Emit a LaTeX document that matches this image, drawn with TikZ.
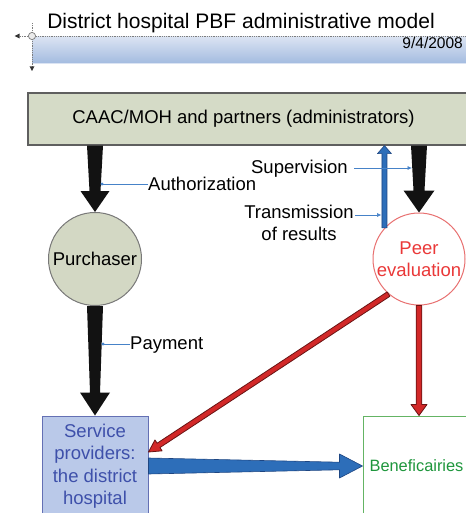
\documentclass[tikz,border=0pt]{standalone}
\usepackage{fontspec}
\setmainfont{Liberation Sans}
\usetikzlibrary{calc,arrows.meta}

\definecolor{bandtop}{RGB}{218,227,242}
\definecolor{bandbot}{RGB}{164,188,224}
\definecolor{guidegray}{RGB}{125,125,125}
\definecolor{admfill}{RGB}{213,219,199}
\definecolor{admline}{RGB}{95,95,95}
\definecolor{purfill}{RGB}{211,216,196}
\definecolor{purline}{RGB}{120,120,120}
\definecolor{svcfill}{RGB}{186,201,233}
\definecolor{svcline}{RGB}{100,112,180}
\definecolor{svctext}{RGB}{62,80,170}
\definecolor{peerline}{RGB}{232,112,112}
\definecolor{peertext}{RGB}{234,56,56}
\definecolor{benline}{RGB}{100,180,100}
\definecolor{bentext}{RGB}{30,150,60}
\definecolor{arrowblue}{RGB}{45,110,185}
\definecolor{arrowblueline}{RGB}{30,70,130}
\definecolor{arrowred}{RGB}{210,40,40}
\definecolor{arrowredline}{RGB}{105,20,20}
\definecolor{lineblue}{RGB}{70,130,200}

% Filled, optionally tapered arrow drawn as one polygon:
% #1 style, #2 start, #3 tip, #4 half-width at start,
% #5 half-width at head base, #6 head half-width, #7 head length
\newcommand\taperarrow[7]{%
  \coordinate (ta-h) at ($(#3)!#7!(#2)$);
  \path[#1] ($(#2)!#4!90:(#3)$) -- ($(ta-h)!#5!90:(#3)$)
    -- ($(ta-h)!#6!90:(#3)$) -- (#3) -- ($(ta-h)!#6!-90:(#3)$)
    -- ($(ta-h)!#5!-90:(#3)$) -- ($(#2)!#4!-90:(#3)$) -- cycle;
}

\begin{document}
\begin{tikzpicture}[x=1pt,y=-1pt,
  txt/.style={font=\fontsize{18.5}{22}\selectfont},
  lab/.style={txt, inner sep=0pt, text height=13.3pt, text depth=3.7pt},
  labml/.style={txt, inner sep=0pt, align=center},
  labline/.style={draw=lineblue, line width=0.7pt},
  guide/.style={draw=guidegray, line width=0.8pt, dash pattern=on 0.9pt off 0.9pt},
  blackarrow/.style={fill=black!93},
  bluearrow/.style={fill=arrowblue, draw=arrowblueline, line width=0.6pt, line join=round},
  redarrow/.style={fill=arrowred, draw=arrowredline, line width=0.8pt, line join=round},
]
\useasboundingbox (0,0) rectangle (465,513);

% ---- header strip
\shade[top color=bandtop, bottom color=bandbot] (32,37) rectangle (470,63);
\draw[white!60!bandbot, line width=1.2pt] (32,63.6) -- (470,63.6);
\draw[guide] (20,36) -- (470,36);
\draw[guide] (32,23) -- (32,67);
\draw[guidegray, fill=white!85!guidegray, line width=0.7pt] (32,36) circle (3.6pt);
\fill[black!80] (14.5,36) -- (19.5,33.6) -- (19.5,38.4) -- cycle;
\fill[black!80] (32,71) -- (29.6,66.5) -- (34.4,66.5) -- cycle;
\node[font=\fontsize{21}{24}\selectfont, inner sep=0pt, anchor=base] (title) at (241,28.5)
  {District hospital PBF administrative model};
\node[font=\fontsize{15.5}{18}\selectfont, inner sep=0pt, anchor=base east] (date) at (463,48.5)
  {9/4/2008};

% ---- actors
\node[txt, rectangle, fill=admfill, draw=admline, line width=1.2pt,
      minimum width=442pt, minimum height=52pt, inner sep=0pt] (adm) at (249,119)
  {\hspace*{-11pt}CAAC/MOH and partners (administrators)};
\node[txt, circle, fill=purfill, draw=purline, line width=1pt,
      minimum size=93pt, inner sep=0pt] (pur) at (95,259) {Purchaser};
\node[txt, circle, fill=white, draw=peerline, line width=1pt, text=peertext,
      minimum size=92pt, inner sep=0pt, align=center] (peer) at (419,259) {Peer\\evaluation};
\node[font=\fontsize{18.5}{22.5}\selectfont, rectangle, fill=svcfill, draw=svcline, line width=1pt,
      text=svctext, minimum width=106pt, minimum height=100pt, inner sep=0pt, align=center]
  (svc) at (95,466) {Service\\providers:\\the district\\hospital};
\node[font=\fontsize{16.4}{20}\selectfont, rectangle, fill=white, draw=benline, line width=1pt,
      text=bentext, minimum width=107pt, minimum height=100pt, inner sep=0pt]
  (ben) at (416.5,466) {Beneficairies};

% ---- flows
\coordinate (pa) at (adm.south -| pur.center);
\coordinate (pb) at (adm.south -| peer.center);
\taperarrow{blackarrow}{pa}{pur.north}{8pt}{5.5pt}{14.5pt}{21pt}
\taperarrow{blackarrow}{pb}{peer.north}{8pt}{5.5pt}{15.5pt}{22pt}
\taperarrow{blackarrow}{pur.south}{svc.north}{8pt}{5pt}{15pt}{23pt}

\coordinate (ts) at (peer.138.6);
\coordinate (te) at (ts |- adm.south);
\taperarrow{bluearrow}{ts}{te}{2.5pt}{2.5pt}{7pt}{8pt}

\taperarrow{bluearrow}{svc.east}{ben.west}{8pt}{3.8pt}{12pt}{23pt}

\coordinate (rs) at (peer.229.3);
\coordinate (re) at ($(svc.east)+(0,-14)$);
\taperarrow{redarrow}{rs}{re}{2.6pt}{2.6pt}{6.5pt}{12pt}
\coordinate (rv) at (peer.south |- ben.north);
\taperarrow{redarrow}{peer.south}{rv}{2.8pt}{2.8pt}{8pt}{11pt}

% ---- flow labels
\node[lab, anchor=west] (auth) at (148,186) {Authorization};
\coordinate (authptr) at (100.5,184);
\draw[labline, -{Circle[length=3pt]}] (auth.west |- authptr) -- (authptr);

\node[lab, anchor=west] (pay) at (130,345) {Payment};
\coordinate (payptr) at (101.5,344);
\draw[labline, -{Circle[length=3pt]}] (pay.west |- payptr) -- (payptr);

\node[lab, anchor=east] (sup) at (348,169) {Supervision};
\coordinate (supptr) at (412,168);
\draw[labline, -{Latex[length=4.5pt,width=4pt]}] ([xshift=6pt]sup.east |- supptr) -- (supptr);

% the base anchor of this two-line label sits on its last line
\node[labml, anchor=base] (trans) at (299,240) {Transmission\\of results};
\coordinate (transptr) at (381.5,215);
\draw[labline, -{Latex[length=4.5pt,width=4pt]}] ([xshift=1pt]trans.east |- transptr) -- (transptr);
\end{tikzpicture}
\end{document}
